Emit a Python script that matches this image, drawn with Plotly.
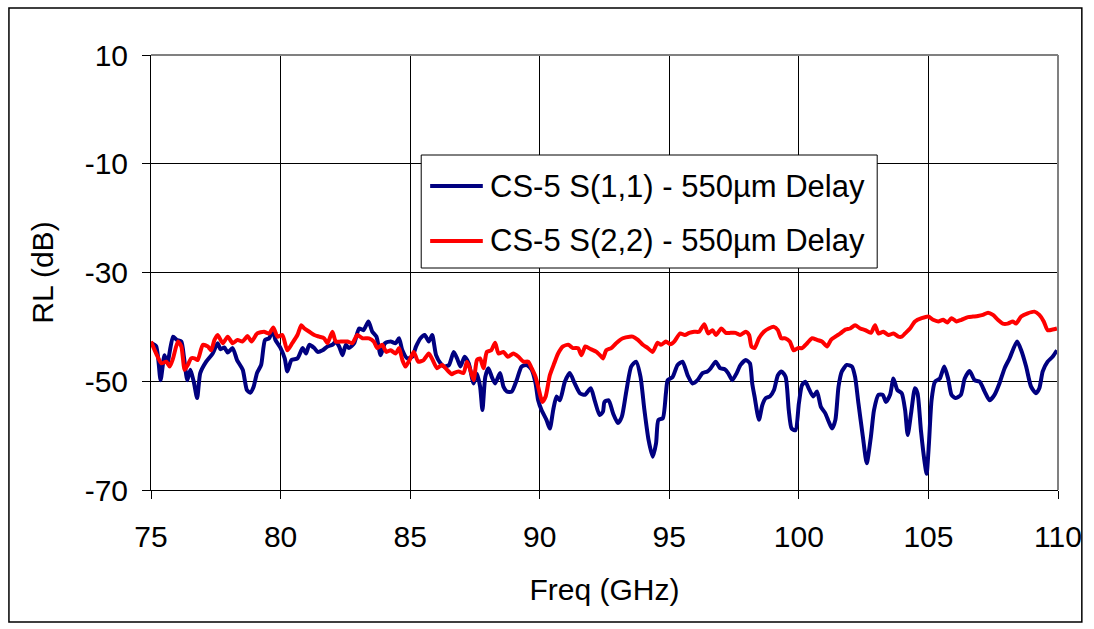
import plotly.graph_objects as go

# S(1,1) return loss, CS-5 with 550 um delay line
s11_freq = [75.0, 75.2, 75.37, 75.52, 75.63, 75.85, 76.0, 76.17, 76.27, 76.4, 76.52, 76.65, 76.78, 76.9,
            77.13, 77.38, 77.57, 77.68, 77.83, 77.96, 78.15, 78.32, 78.54, 78.7, 78.83, 78.96, 79.09, 79.25,
            79.4, 79.56, 79.7, 79.8, 80.0, 80.16, 80.26, 80.42, 80.65, 80.85, 80.98, 81.11, 81.3, 81.43,
            81.62, 81.81, 82.0, 82.13, 82.26, 82.39, 82.52, 82.64, 82.84, 83.03, 83.2, 83.39, 83.54, 83.7,
            83.86, 84.03, 84.25, 84.44, 84.57, 84.7, 84.89, 85.08, 85.23, 85.4, 85.56, 85.72, 85.85, 86.0,
            86.17, 86.3, 86.5, 86.68, 86.81, 86.94, 87.1, 87.26, 87.45, 87.58, 87.7, 87.79, 87.9, 88.02,
            88.15, 88.28, 88.47, 88.6, 88.73, 88.92, 89.11, 89.3, 89.5, 89.69, 89.84, 89.94, 90.07, 90.26,
            90.39, 90.52, 90.65, 90.78, 90.97, 91.16, 91.35, 91.55, 91.74, 91.97, 92.12, 92.31, 92.44, 92.5,
            92.66, 92.83, 93.02, 93.17, 93.34, 93.53, 93.72, 93.89, 94.04, 94.2, 94.36, 94.49, 94.58, 94.75,
            94.87, 94.94, 95.13, 95.32, 95.51, 95.71, 95.9, 96.09, 96.28, 96.47, 96.6, 96.79, 96.96, 97.14,
            97.27, 97.43, 97.6, 97.75, 97.95, 98.11, 98.2, 98.29, 98.46, 98.59, 98.72, 98.88, 99.04, 99.19,
            99.33, 99.49, 99.61, 99.72, 99.87, 100.0, 100.12, 100.25, 100.38, 100.55, 100.7, 100.85, 101.02,
            101.15, 101.28, 101.41, 101.53, 101.66, 101.85, 102.05, 102.17, 102.3, 102.47, 102.62, 102.78,
            102.9, 103.07, 103.24, 103.36, 103.52, 103.65, 103.8, 103.97, 104.1, 104.2, 104.33, 104.48,
            104.58, 104.71, 104.86, 104.93, 105.02, 105.12, 105.25, 105.44, 105.61, 105.76, 105.89, 106.04,
            106.25, 106.4, 106.59, 106.78, 106.98, 107.17, 107.36, 107.55, 107.74, 107.94, 108.13, 108.42,
            108.58, 108.77, 108.96, 109.15, 109.28, 109.41, 109.6, 109.79, 109.96]
s11_db = [-43.0, -43.6, -49.8, -45.2, -46.7, -41.8, -42.4, -42.7, -45.5, -49.8, -47.9, -50.1, -53.1, -48.5,
          -46.4, -44.9, -43.0, -44.1, -43.8, -44.7, -43.9, -46.1, -47.9, -51.6, -52.1, -51.0, -48.5, -47.0,
          -42.4, -42.1, -40.6, -42.4, -43.9, -45.8, -48.2, -46.1, -45.8, -43.9, -44.9, -43.3, -43.9, -44.6,
          -44.3, -43.6, -43.3, -42.7, -43.6, -45.2, -43.3, -43.9, -43.0, -40.3, -40.6, -39.0, -40.9, -41.8,
          -45.2, -43.0, -42.7, -43.0, -42.1, -44.3, -45.8, -45.5, -43.6, -42.1, -41.5, -42.7, -41.5, -45.2,
          -46.7, -47.3, -47.0, -44.6, -45.8, -47.3, -45.5, -46.7, -50.4, -48.6, -51.0, -55.3, -49.2, -47.6,
          -49.2, -50.4, -48.5, -51.0, -51.9, -51.9, -49.8, -47.3, -47.0, -47.9, -50.4, -53.5, -55.3, -57.1,
          -58.7, -55.3, -52.8, -53.5, -50.1, -48.5, -50.4, -52.2, -52.5, -51.3, -53.5, -56.2, -55.6, -53.8,
          -53.5, -55.9, -57.7, -56.5, -51.9, -47.3, -46.4, -49.2, -55.3, -60.8, -63.9, -61.4, -57.1, -56.8,
          -52.2, -49.8, -49.2, -47.0, -46.4, -48.9, -50.4, -49.8, -48.5, -48.2, -47.6, -46.4, -47.6, -47.8,
          -48.5, -49.8, -48.5, -47.0, -46.1, -46.7, -50.4, -52.8, -57.1, -54.4, -53.1, -52.8, -51.6, -48.9,
          -48.2, -49.2, -55.3, -58.7, -59.0, -54.1, -50.7, -50.1, -51.3, -52.8, -51.9, -54.7, -55.9,
          -57.4, -58.7, -57.1, -51.0, -48.2, -47.0, -47.3, -49.2, -54.1, -60.2, -65.1, -60.2,
          -55.3, -52.5, -52.5, -53.8, -52.5, -49.5, -51.6, -52.2, -55.3, -59.9, -55.9, -51.3,
          -52.2, -59.0, -65.1, -67.0, -61.4, -53.5, -50.1, -49.5, -47.3, -49.5, -52.5, -53.1,
          -52.5, -49.5, -48.1, -49.8, -50.1, -51.9, -53.5, -52.5, -50.4, -47.6, -45.8, -42.7,
          -44.3, -47.3, -51.0, -52.2, -51.3, -48.2, -46.4, -45.5, -44.3]

# S(2,2) return loss, CS-5 with 550 um delay line
s22_freq = [75.0, 75.2, 75.4, 75.59, 75.72, 75.85, 76.04, 76.17, 76.3, 76.42, 76.55, 76.68, 76.8, 77.0,
            77.19, 77.32, 77.45, 77.57, 77.77, 77.96, 78.15, 78.34, 78.53, 78.73, 78.88, 79.1, 79.36, 79.56,
            79.72, 79.88, 80.07, 80.26, 80.45, 80.65, 80.8, 80.92, 81.11, 81.3, 81.49, 81.68, 81.81, 82.0,
            82.13, 82.32, 82.58, 82.77, 82.96, 83.16, 83.41, 83.6, 83.73, 83.92, 84.08, 84.25, 84.44, 84.57,
            84.7, 84.82, 85.01, 85.14, 85.31, 85.52, 85.72, 85.87, 86.04, 86.23, 86.42, 86.61, 86.68, 86.87,
            87.06, 87.19, 87.32, 87.45, 87.58, 87.7, 87.83, 87.96, 88.13, 88.28, 88.41, 88.6, 88.77, 88.98,
            89.18, 89.37, 89.56, 89.69, 89.84, 89.97, 90.1, 90.23, 90.39, 90.56, 90.71, 90.9, 91.1, 91.29,
            91.48, 91.61, 91.76, 91.97, 92.19, 92.38, 92.44, 92.57, 92.76, 92.95, 93.21, 93.47, 93.59, 93.79,
            93.98, 94.17, 94.36, 94.55, 94.68, 94.87, 95.04, 95.19, 95.42, 95.6, 95.77, 95.96, 96.15, 96.35,
            96.5, 96.67, 96.8, 97.01, 97.18, 97.37, 97.56, 97.73, 97.95, 98.08, 98.17, 98.29, 98.46, 98.65,
            98.84, 99.04, 99.19, 99.32, 99.48, 99.65, 99.8, 99.96, 100.12, 100.32, 100.51, 100.7, 100.89,
            101.09, 101.24, 101.41, 101.6, 101.79, 101.98, 102.17, 102.37, 102.56, 102.78, 102.94, 103.07,
            103.26, 103.46, 103.65, 103.84, 103.97, 104.1, 104.29, 104.48, 104.74, 105.0, 105.18, 105.38,
            105.57, 105.73, 105.89, 106.08, 106.27, 106.53, 106.72, 106.91, 107.1, 107.3, 107.49, 107.68,
            107.87, 108.06, 108.26, 108.38, 108.58, 108.83, 109.09, 109.28, 109.45, 109.6, 109.79, 109.96]
s22_db = [-42.7, -44.9, -46.7, -46.4, -47.3, -45.8, -42.7, -43.6, -47.9, -47.0, -45.8, -45.8, -46.1, -43.3,
          -43.6, -44.3, -42.4, -41.5, -43.0, -41.8, -43.0, -42.4, -42.7, -41.7, -42.7, -41.2, -40.9, -41.2,
          -40.1, -41.8, -41.5, -44.3, -43.0, -41.5, -39.7, -40.3, -40.9, -41.5, -41.8, -42.1, -43.0, -40.9,
          -42.7, -42.7, -42.7, -43.0, -41.5, -42.1, -42.1, -42.7, -43.9, -43.3, -44.6, -44.3, -44.9, -43.9,
          -46.1, -47.3, -45.8, -44.6, -46.4, -46.1, -44.9, -46.1, -47.6, -47.0, -47.9, -48.7, -48.5, -48.2,
          -48.5, -46.4, -47.9, -49.8, -46.1, -45.8, -47.6, -44.6, -44.3, -42.9, -44.9, -44.6, -45.5, -44.9,
          -45.5, -46.4, -46.4, -47.6, -49.2, -51.6, -53.8, -52.8, -48.9, -46.7, -44.9, -43.6, -43.3, -43.9,
          -43.9, -45.2, -43.6, -44.1, -44.6, -45.5, -45.8, -44.3, -43.9, -43.0, -42.1, -41.8, -41.8, -42.4,
          -43.3, -43.9, -44.6, -42.9, -43.3, -42.7, -43.2, -42.7, -41.2, -41.5, -41.1, -40.9, -40.9, -39.5,
          -41.2, -40.6, -41.5, -40.3, -41.1, -41.1, -41.1, -41.5, -40.9, -41.5, -43.6, -43.9, -42.1, -40.9,
          -40.3, -40.0, -40.6, -42.1, -42.1, -42.7, -44.3, -43.9, -43.9, -43.0, -42.1, -42.4, -42.7,
          -43.6, -42.4, -41.8, -41.2, -40.5, -40.3, -39.7, -40.3, -40.6, -41.1, -39.7, -41.2,
          -40.9, -41.5, -41.2, -41.8, -41.8, -41.2, -40.3, -39.0, -38.4, -38.1, -38.7, -39.0,
          -38.7, -39.2, -38.4, -39.0, -38.7, -38.2, -38.1, -38.0, -37.8, -37.4, -37.8, -38.7,
          -39.4, -39.4, -39.0, -39.4, -38.1, -37.5, -37.2, -37.8, -39.0, -40.6, -40.5, -40.3]

x_ticks = [75, 80, 85, 90, 95, 100, 105, 110]
y_ticks = [10, -10, -30, -50, -70]

series_names = ["CS-5 S(1,1) - 550µm Delay", "CS-5 S(2,2) - 550µm Delay"]
series_colors = ["#000080", "#FF0000"]

FONT = "Liberation Sans, Arial, sans-serif"
FS = 30

# plot-area geometry in pixels (used to place the frame and legend in paper units)
ML, MR, MT, MB = 151, 30, 55, 139
PW = 1094 - ML - MR
PH = 629 - MT - MB


def px(x):
    return (x - ML) / PW


def py(y):
    return (629 - MB - y) / PH


fig = go.Figure()
for fx, fy, name, color in [(s11_freq, s11_db, series_names[0], series_colors[0]),
                            (s22_freq, s22_db, series_names[1], series_colors[1])]:
    fig.add_trace(go.Scatter(x=fx, y=fy, mode="lines", name=name, showlegend=False,
                             line=dict(color=color, width=4, shape="spline", smoothing=0.6)))

axis_common = dict(showgrid=True, gridcolor="#000000", gridwidth=1, ticks="outside", ticklen=8,
                   tickcolor="#000000", tickwidth=1, showline=True, linecolor="#000000", linewidth=1,
                   zeroline=False, tickfont=dict(family=FONT, size=FS, color="#000000"))

fig.update_layout(
    width=1094, height=629,
    margin=dict(l=ML, r=MR, t=MT, b=MB),
    paper_bgcolor="#FFFFFF", plot_bgcolor="#FFFFFF",
    font=dict(family=FONT, size=FS, color="#000000"),
    xaxis=dict(range=[75, 110], tickvals=x_ticks, ticktext=[str(v) for v in x_ticks],
               ticklabelstandoff=12,
               title=dict(text="Freq (GHz)", font=dict(family=FONT, size=FS), standoff=26),
               mirror=False, **axis_common),
    yaxis=dict(range=[-70, 10], tickvals=y_ticks, ticktext=[str(v) for v in y_ticks],
               ticklabelstandoff=8,
               title=dict(text="RL (dB)", font=dict(family=FONT, size=FS), standoff=22),
               mirror=False, **axis_common),
    showlegend=False,
)

# grey plot-area frame on the top and right sides, outer chart border
fig.add_shape(type="line", xref="paper", yref="paper", x0=0, x1=1, y0=1, y1=1,
              line=dict(color="#808080", width=2))
fig.add_shape(type="line", xref="paper", yref="paper", x0=1, x1=1, y0=0, y1=1,
              line=dict(color="#808080", width=2))
fig.add_shape(type="rect", xref="paper", yref="paper",
              x0=px(8), x1=px(1088), y0=py(622), y1=py(8),
              line=dict(color="#000000", width=1.5))

# legend box with line samples and labels
fig.add_shape(type="rect", xref="paper", yref="paper", layer="above",
              x0=px(423), x1=px(882), y0=py(268), y1=py(155),
              fillcolor="#FFFFFF", line=dict(color="#000000", width=1))
for row_px, name, color in [(186, series_names[0], series_colors[0]),
                            (241, series_names[1], series_colors[1])]:
    fig.add_shape(type="line", xref="paper", yref="paper", layer="above",
                  x0=px(432), x1=px(485), y0=py(row_px), y1=py(row_px),
                  line=dict(color=color, width=4))
    fig.add_annotation(xref="paper", yref="paper", x=px(490), y=py(row_px), xanchor="left",
                       yanchor="middle", text=name, showarrow=False,
                       font=dict(family=FONT, size=31, color="#000000"))

fig.write_html("out.html")
